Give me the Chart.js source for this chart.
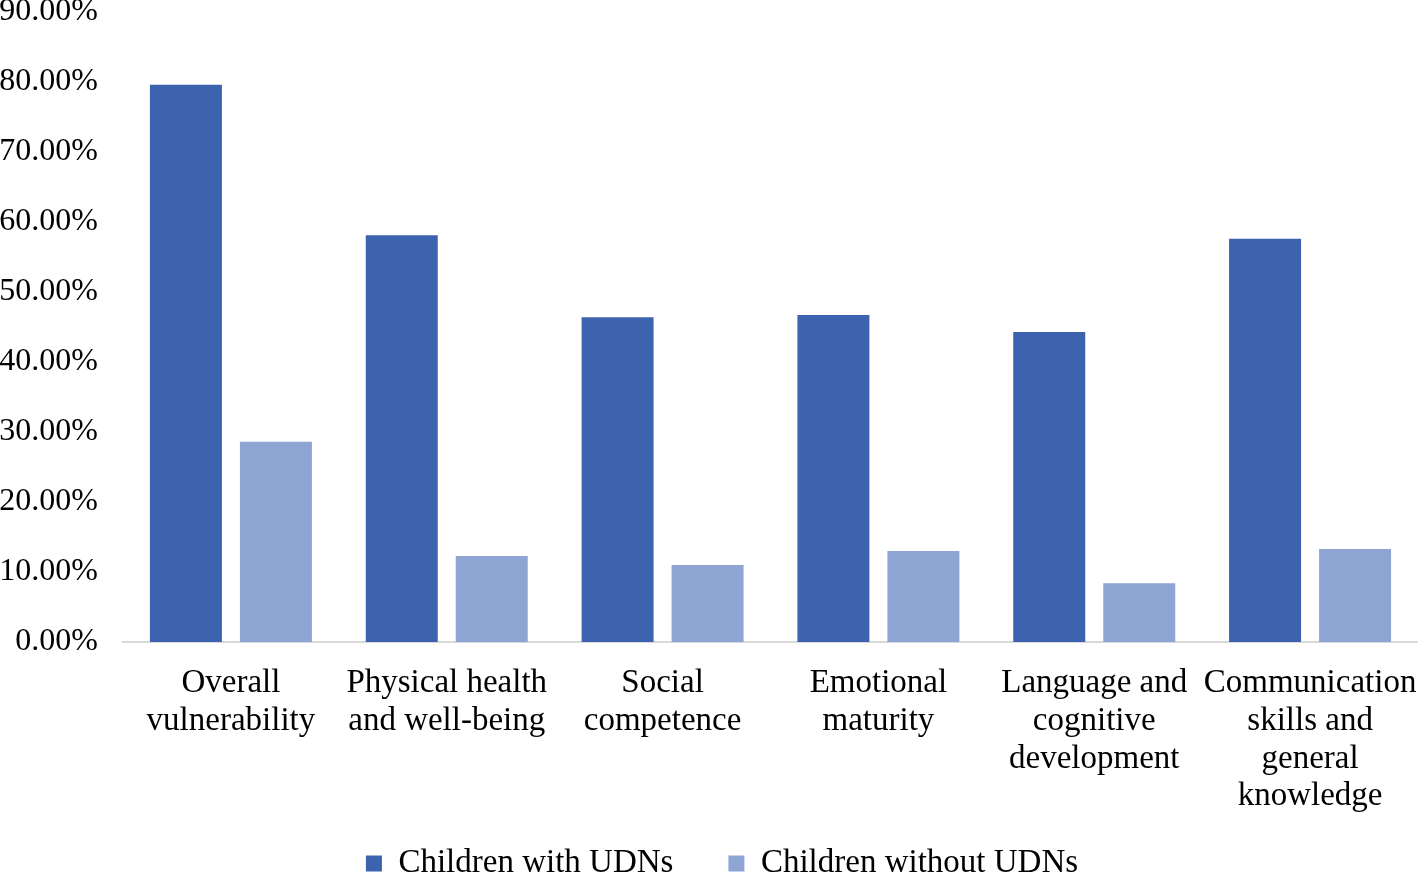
<!DOCTYPE html>
<html>
<head>
<meta charset="utf-8">
<script src="https://cdn.jsdelivr.net/npm/chart.js@4/dist/chart.umd.min.js"></script>
<style>
  html, body { margin: 0; padding: 0; background: #fff; overflow: hidden; width: 1418px; height: 872px; }
  #wrap { position: absolute; left: 0; top: 0; width: 1418px; height: 890px; }
  canvas { display: block; }
</style>
</head>
<body>
<div id="wrap"><canvas id="c" width="1418" height="890"></canvas></div>
<script>
const categories = [
  ["Overall", "vulnerability"],
  ["Physical health", "and well-being"],
  ["Social", "competence"],
  ["Emotional", "maturity"],
  ["Language and", "cognitive", "development"],
  ["Communication", "skills and", "general", "knowledge"]
];
const seriesNames = ["Children with UDNs", "Children without UDNs"];
const withUDNs = [79.6, 58.1, 46.4, 46.7, 44.3, 57.6];
const withoutUDNs = [28.6, 12.3, 11.0, 13.0, 8.4, 13.3];
const yTicks = [0, 10, 20, 30, 40, 50, 60, 70, 80, 90];

const FONT = "'Liberation Serif', 'Times New Roman', serif";

// Let the multi-line category labels extend past the x-scale box (no clipping),
// and nudge the legend row so it sits where the reference legend sits.
const layoutTweaks = {
  id: 'layoutTweaks',
  afterLayout(chart) {
    chart.scales.x.bottom = chart.height;
    if (chart.legend) {
      chart.legend.left += 13;
      chart.legend.right += 13;
    }
  }
};

new Chart(document.getElementById('c'), {
  type: 'bar',
  data: {
    labels: categories,
    datasets: [
      { label: seriesNames[0], data: withUDNs, backgroundColor: '#3E63AE',
        categoryPercentage: 0.834, barPercentage: 0.8 },
      { label: seriesNames[1], data: withoutUDNs, backgroundColor: '#8EA5D4',
        categoryPercentage: 0.834, barPercentage: 0.8 }
    ]
  },
  plugins: [layoutTweaks],
  options: {
    responsive: false,
    animation: false,
    layout: { padding: { left: 0, right: 0, top: 12, bottom: 0 } },
    plugins: {
      tooltip: { enabled: false },
      legend: {
        position: 'bottom',
        labels: {
          font: { family: FONT, size: 33 },
          color: '#000',
          boxWidth: 16,
          boxHeight: 16,
          padding: 55
        }
      }
    },
    scales: {
      x: {
        grid: { display: false },
        border: { display: true, color: '#D9D9D9', width: 2 },
        ticks: {
          font: { family: FONT, size: 33, lineHeight: 1.15 },
          color: '#000',
          padding: 14,
          maxRotation: 0,
          autoSkip: false
        },
        afterFit: (s) => { s.height = 150; s.paddingLeft = 0; s.paddingRight = 0; }
      },
      y: {
        min: 0,
        max: 90,
        afterBuildTicks: (s) => { s.ticks = yTicks.map(v => ({ value: v })); },
        grid: { display: false },
        border: { display: false },
        ticks: {
          font: { family: FONT, size: 32 },
          color: '#000',
          padding: 17,
          callback: (v) => v.toFixed(2) + '%'
        },
        afterFit: (s) => { s.width = 123; s.paddingTop = 0; s.paddingBottom = 0; }
      }
    }
  }
});
</script>
</body>
</html>
